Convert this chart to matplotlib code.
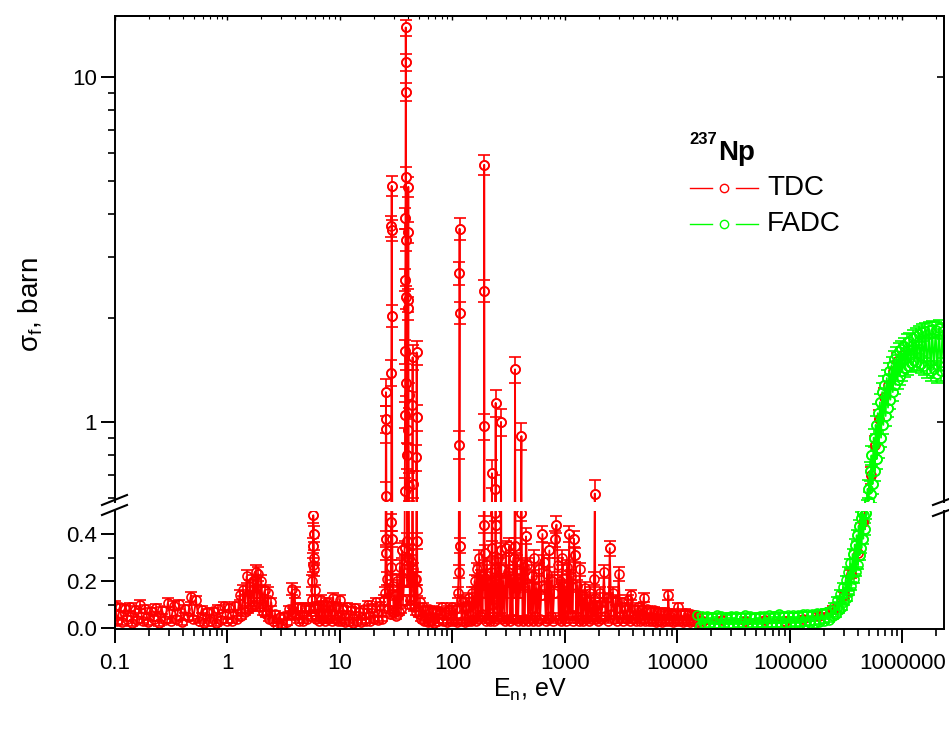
import numpy as np
import matplotlib
matplotlib.use("Agg")
import matplotlib.pyplot as plt
from matplotlib.lines import Line2D
from matplotlib.ticker import FixedLocator, FixedFormatter, LogLocator, NullFormatter

plt.rcParams['font.family'] = ['Liberation Sans', 'DejaVu Sans']
plt.rcParams['mathtext.fontset'] = 'custom'
plt.rcParams['mathtext.rm'] = 'Liberation Sans'
plt.rcParams['mathtext.it'] = 'Liberation Sans'

# ---- fission cross section of Np-237: (energy eV, sigma barn, error barn) ----
tdc_thermal = [
    (0.100, 0.095, 0.018), (0.105, 0.030, 0.012), (0.110, 0.088, 0.016), (0.116, 0.025, 0.010),
    (0.122, 0.082, 0.015), (0.128, 0.040, 0.012), (0.135, 0.090, 0.017), (0.142, 0.020, 0.010),
    (0.150, 0.078, 0.015), (0.158, 0.035, 0.012), (0.167, 0.100, 0.018), (0.176, 0.030, 0.010),
    (0.186, 0.082, 0.016), (0.197, 0.025, 0.010), (0.208, 0.072, 0.014), (0.220, 0.040, 0.012),
    (0.233, 0.085, 0.016), (0.247, 0.020, 0.010), (0.262, 0.076, 0.015), (0.278, 0.035, 0.012),
    (0.295, 0.108, 0.020), (0.313, 0.030, 0.010), (0.332, 0.095, 0.018), (0.352, 0.040, 0.012),
    (0.373, 0.102, 0.019), (0.395, 0.025, 0.010), (0.418, 0.080, 0.016), (0.443, 0.045, 0.012),
    (0.469, 0.132, 0.022), (0.496, 0.040, 0.012), (0.525, 0.118, 0.020), (0.556, 0.030, 0.010),
    (0.589, 0.078, 0.015), (0.624, 0.020, 0.010), (0.661, 0.068, 0.014), (0.700, 0.030, 0.010),
    (0.741, 0.072, 0.015), (0.785, 0.020, 0.010), (0.831, 0.082, 0.016), (0.880, 0.035, 0.012),
    (0.932, 0.092, 0.017), (0.987, 0.030, 0.010),
]

tdc_low = [
    (1.04, 0.085, 0.016), (1.10, 0.030, 0.010), (1.16, 0.095, 0.017), (1.22, 0.040, 0.012),
    (1.28, 0.140, 0.022), (1.33, 0.050, 0.012), (1.38, 0.160, 0.024), (1.43, 0.070, 0.014),
    (1.48, 0.220, 0.028), (1.53, 0.080, 0.015), (1.58, 0.180, 0.026), (1.63, 0.090, 0.016),
    (1.68, 0.200, 0.027), (1.73, 0.100, 0.017), (1.78, 0.240, 0.030), (1.83, 0.110, 0.018),
    (1.88, 0.230, 0.030), (1.94, 0.090, 0.016), (2.00, 0.200, 0.027), (2.07, 0.070, 0.014),
    (2.14, 0.160, 0.024), (2.21, 0.060, 0.013), (2.28, 0.150, 0.023), (2.36, 0.040, 0.012),
    (2.45, 0.110, 0.018), (2.55, 0.030, 0.010), (2.66, 0.060, 0.013), (2.78, 0.015, 0.008),
    (2.91, 0.045, 0.012), (3.05, 0.010, 0.008), (3.20, 0.050, 0.012), (3.36, 0.025, 0.010),
    (3.52, 0.080, 0.015), (3.65, 0.060, 0.013), (3.75, 0.165, 0.025), (3.85, 0.070, 0.014),
    (3.95, 0.150, 0.023), (4.06, 0.050, 0.012), (4.20, 0.090, 0.016), (4.36, 0.030, 0.010),
    (4.53, 0.085, 0.016), (4.72, 0.030, 0.010), (4.92, 0.090, 0.016), (5.13, 0.040, 0.012),
    (5.35, 0.080, 0.015), (5.52, 0.050, 0.012), (5.62, 0.120, 0.020), (5.67, 0.200, 0.026),
    (5.71, 0.270, 0.030), (5.75, 0.350, 0.032), (5.79, 0.480, 0.035), (5.83, 0.400, 0.033),
    (5.87, 0.300, 0.030), (5.91, 0.250, 0.028), (5.96, 0.160, 0.024), (6.02, 0.090, 0.016),
    (6.15, 0.040, 0.012), (6.35, 0.095, 0.017), (6.55, 0.030, 0.010), (6.75, 0.120, 0.020),
    (6.95, 0.040, 0.012), (7.17, 0.100, 0.017), (7.40, 0.030, 0.010), (7.64, 0.110, 0.018),
    (7.89, 0.040, 0.012), (8.15, 0.095, 0.017), (8.42, 0.030, 0.010), (8.70, 0.130, 0.020),
    (8.99, 0.040, 0.012), (9.30, 0.090, 0.016), (9.62, 0.030, 0.010), (9.95, 0.120, 0.020),
]

tdc_resonance = [
    (10.3, 0.030, 0.010), (10.7, 0.080, 0.015), (11.1, 0.025, 0.010), (11.6, 0.090, 0.016),
    (12.1, 0.030, 0.010), (12.6, 0.075, 0.015), (13.1, 0.020, 0.010), (13.7, 0.085, 0.016),
    (14.3, 0.030, 0.010), (14.9, 0.070, 0.014), (15.5, 0.025, 0.010), (16.2, 0.080, 0.015),
    (16.9, 0.030, 0.010), (17.6, 0.100, 0.017), (18.4, 0.030, 0.010), (19.2, 0.085, 0.016),
    (20.0, 0.040, 0.012), (20.9, 0.110, 0.018), (21.8, 0.035, 0.012), (22.8, 0.095, 0.017),
    (23.8, 0.040, 0.012), (24.6, 0.120, 0.020),
    (25.2, 0.150, 0.024), (25.4, 0.320, 0.032), (25.5, 0.610, 0.060), (25.6, 1.220, 0.110),
    (25.7, 1.020, 0.090), (25.8, 0.955, 0.085), (25.9, 0.380, 0.034), (26.1, 0.210, 0.027),
    (26.6, 0.080, 0.015), (27.2, 0.160, 0.024), (27.8, 0.060, 0.013),
    (28.3, 0.260, 0.030), (28.5, 0.450, 0.035), (28.6, 1.390, 0.120), (28.7, 3.700, 0.260),
    (28.8, 4.830, 0.330), (28.9, 3.600, 0.250), (29.0, 2.030, 0.150), (29.2, 0.380, 0.034),
    (29.4, 0.180, 0.025),
    (30.0, 0.070, 0.014), (30.8, 0.140, 0.022), (31.6, 0.050, 0.012), (32.4, 0.200, 0.026),
    (33.2, 0.070, 0.014), (34.0, 0.260, 0.030), (34.8, 0.080, 0.015), (35.6, 0.330, 0.032),
    (36.4, 0.120, 0.020),
    (37.2, 0.200, 0.026), (37.5, 0.340, 0.032), (37.7, 0.630, 0.060), (37.9, 1.050, 0.090),
    (38.0, 1.600, 0.130), (38.1, 2.580, 0.190), (38.2, 3.900, 0.270), (38.3, 9.050, 0.550),
    (38.4, 13.90, 0.750), (38.5, 11.00, 0.620), (38.6, 5.130, 0.340), (38.7, 3.370, 0.240),
    (38.8, 2.300, 0.170), (39.0, 1.300, 0.110), (39.2, 0.800, 0.070), (39.5, 0.370, 0.034),
    (39.8, 0.200, 0.026),
    (40.0, 0.300, 0.030), (40.2, 0.950, 0.085), (40.3, 2.140, 0.160), (40.4, 3.550, 0.250),
    (40.5, 4.800, 0.330), (40.6, 2.250, 0.170), (40.7, 1.200, 0.100), (40.9, 0.650, 0.060),
    (41.2, 0.300, 0.030),
    (41.8, 0.120, 0.020), (42.4, 0.280, 0.030), (43.0, 0.100, 0.017),
    (43.6, 0.200, 0.026), (44.0, 1.120, 0.100), (44.2, 1.540, 0.130), (44.4, 0.660, 0.060),
    (44.7, 0.250, 0.028),
    (45.5, 0.090, 0.016), (46.3, 0.210, 0.027), (47.0, 0.070, 0.014),
    (47.5, 0.210, 0.027), (47.8, 0.790, 0.070), (48.0, 1.590, 0.130), (48.2, 1.030, 0.090),
    (48.5, 0.370, 0.034), (48.8, 0.160, 0.024),
    (50.0, 0.060, 0.013), (51.5, 0.110, 0.018), (53.0, 0.040, 0.012), (54.6, 0.090, 0.016),
    (56.2, 0.030, 0.010), (58.0, 0.075, 0.015), (60.0, 0.025, 0.010), (62.0, 0.080, 0.015),
    (64.0, 0.030, 0.010), (66.5, 0.070, 0.014), (69.0, 0.020, 0.010), (71.5, 0.075, 0.015),
    (74.0, 0.030, 0.010), (77.0, 0.065, 0.014), (80.0, 0.090, 0.016), (83.0, 0.030, 0.010),
    (86.5, 0.070, 0.014), (90.0, 0.025, 0.010), (93.5, 0.080, 0.015), (97.0, 0.030, 0.010),
]

tdc_unresolved = [
    (100, 0.090, 0.016), (103, 0.030, 0.010), (106, 0.080, 0.015), (109, 0.025, 0.010),
    (112, 0.150, 0.023), (113.5, 0.240, 0.028), (114.5, 0.860, 0.080), (115.2, 2.700, 0.200),
    (115.6, 3.630, 0.260), (116.0, 2.070, 0.150), (116.6, 0.350, 0.032), (118, 0.120, 0.020),
    (121, 0.030, 0.010), (125, 0.110, 0.018), (129, 0.025, 0.010), (133, 0.090, 0.016),
    (137, 0.030, 0.010), (141, 0.130, 0.021), (145, 0.030, 0.010), (149, 0.150, 0.023),
    (153, 0.040, 0.012), (157, 0.200, 0.026), (161, 0.030, 0.010), (165, 0.250, 0.028),
    (169, 0.040, 0.012), (173, 0.300, 0.030), (177, 0.050, 0.012), (181, 0.220, 0.027),
    (184.5, 0.060, 0.013),
    (188, 0.200, 0.026), (189.5, 0.440, 0.035), (190.5, 0.970, 0.085), (191.5, 5.560, 0.370),
    (192.2, 2.400, 0.180), (193, 0.320, 0.032), (195, 0.150, 0.023),
    (198, 0.030, 0.010), (202, 0.270, 0.030), (206, 0.040, 0.012), (210, 0.190, 0.026),
    (214, 0.030, 0.010), (218, 0.240, 0.028),
    (222, 0.100, 0.017), (224, 0.710, 0.065), (226, 0.340, 0.032), (228, 0.050, 0.012),
    (232, 0.180, 0.025), (236, 0.030, 0.010),
    (239, 0.250, 0.028), (240, 0.490, 0.036), (241, 0.640, 0.060), (242, 1.135, 0.100),
    (243, 0.440, 0.035), (244, 0.200, 0.026),
    (250, 0.040, 0.012), (256, 0.300, 0.030), (262, 0.050, 0.012),
    (266, 0.150, 0.023), (268, 0.330, 0.032), (270, 1.000, 0.090), (272, 0.250, 0.028),
    (275, 0.040, 0.012),
    (282, 0.200, 0.026), (290, 0.030, 0.010), (298, 0.340, 0.032), (306, 0.040, 0.012),
    (314, 0.240, 0.028), (320, 0.350, 0.032), (327, 0.030, 0.010), (334, 0.210, 0.027),
    (342, 0.040, 0.012), (349, 0.300, 0.030),
    (353, 0.150, 0.023), (356, 0.350, 0.032), (360, 1.420, 0.120), (364, 0.200, 0.026),
    (368, 0.040, 0.012),
    (375, 0.280, 0.030), (383, 0.030, 0.010), (391, 0.190, 0.026),
    (400, 0.150, 0.023), (405, 0.490, 0.036), (410, 0.910, 0.080), (415, 0.200, 0.026),
    (420, 0.030, 0.010),
    (430, 0.260, 0.029), (440, 0.040, 0.012), (450, 0.390, 0.034), (460, 0.270, 0.030),
    (470, 0.030, 0.010), (482, 0.180, 0.025), (494, 0.040, 0.012), (506, 0.220, 0.027),
    (518, 0.030, 0.010), (531, 0.300, 0.030), (544, 0.050, 0.012), (558, 0.170, 0.024),
    (572, 0.030, 0.010), (586, 0.250, 0.028), (600, 0.040, 0.012), (615, 0.140, 0.022),
    (630, 0.400, 0.034), (645, 0.280, 0.030), (660, 0.170, 0.024), (676, 0.030, 0.010),
    (692, 0.230, 0.028), (709, 0.040, 0.012), (726, 0.330, 0.032), (744, 0.050, 0.012),
    (762, 0.200, 0.026), (780, 0.030, 0.010), (800, 0.150, 0.023), (820, 0.380, 0.034),
    (840, 0.440, 0.035), (860, 0.270, 0.030), (880, 0.040, 0.012), (900, 0.200, 0.026),
    (922, 0.030, 0.010), (944, 0.300, 0.030), (967, 0.050, 0.012), (990, 0.180, 0.025),
]

tdc_kev = [
    (1015, 0.030, 0.010), (1040, 0.260, 0.029), (1065, 0.050, 0.012), (1090, 0.400, 0.034),
    (1115, 0.060, 0.013), (1140, 0.220, 0.027), (1170, 0.030, 0.010), (1200, 0.380, 0.034),
    (1230, 0.310, 0.031), (1260, 0.050, 0.012), (1290, 0.180, 0.025), (1320, 0.030, 0.010),
    (1355, 0.250, 0.028), (1390, 0.040, 0.012), (1425, 0.140, 0.022), (1460, 0.030, 0.010),
    (1500, 0.170, 0.024), (1540, 0.040, 0.012), (1580, 0.120, 0.020), (1620, 0.030, 0.010),
    (1665, 0.150, 0.023), (1710, 0.040, 0.012), (1755, 0.090, 0.016),
    (1800, 0.050, 0.012), (1820, 0.210, 0.027), (1840, 0.620, 0.060), (1860, 0.130, 0.021),
    (1880, 0.040, 0.012),
    (1930, 0.100, 0.017), (1980, 0.030, 0.010), (2040, 0.150, 0.023), (2100, 0.040, 0.012),
    (2160, 0.110, 0.018), (2220, 0.240, 0.028), (2290, 0.050, 0.012), (2360, 0.130, 0.021),
    (2430, 0.030, 0.010), (2500, 0.340, 0.032), (2580, 0.060, 0.013), (2660, 0.150, 0.023),
    (2740, 0.040, 0.012), (2820, 0.120, 0.020), (2910, 0.030, 0.010), (3000, 0.230, 0.028),
    (3100, 0.050, 0.012), (3200, 0.110, 0.018), (3300, 0.030, 0.010), (3420, 0.090, 0.016),
    (3540, 0.040, 0.012), (3660, 0.120, 0.020), (3780, 0.030, 0.010), (3900, 0.140, 0.022),
    (4030, 0.040, 0.012), (4170, 0.080, 0.015), (4310, 0.030, 0.010), (4460, 0.090, 0.016),
    (4610, 0.030, 0.010), (4770, 0.080, 0.015), (4930, 0.040, 0.012), (5000, 0.130, 0.021),
    (5180, 0.030, 0.010), (5370, 0.080, 0.015), (5560, 0.030, 0.010), (5760, 0.070, 0.014),
    (5960, 0.030, 0.010), (6170, 0.075, 0.015), (6390, 0.025, 0.010), (6620, 0.070, 0.014),
    (6860, 0.030, 0.010), (7100, 0.065, 0.014), (7350, 0.025, 0.010), (7610, 0.070, 0.014),
    (7880, 0.030, 0.010), (8160, 0.060, 0.013), (8300, 0.140, 0.022), (8450, 0.030, 0.010),
    (8750, 0.065, 0.014), (9060, 0.025, 0.010), (9380, 0.060, 0.013), (9710, 0.030, 0.010),
    (10050, 0.090, 0.016), (10400, 0.030, 0.010), (10800, 0.060, 0.013), (11200, 0.025, 0.010),
    (11600, 0.065, 0.014), (12000, 0.030, 0.010), (12400, 0.060, 0.013), (12800, 0.025, 0.010),
    (13300, 0.060, 0.013), (13800, 0.030, 0.010), (14300, 0.055, 0.012), (14800, 0.025, 0.010),
    (15300, 0.050, 0.012),
]

tdc_fast = [
    (17000, 0.030, 0.010), (25000, 0.035, 0.010), (40000, 0.030, 0.010), (60000, 0.035, 0.010),
    (90000, 0.030, 0.010), (130000, 0.040, 0.010), (180000, 0.050, 0.012), (240000, 0.080, 0.012),
    (300000, 0.140, 0.015), (350000, 0.230, 0.018), (400000, 0.320, 0.022), (450000, 0.450, 0.026),
    (520000, 0.700, 0.040), (570000, 0.860, 0.050), (620000, 1.020, 0.060), (680000, 1.180, 0.070),
    (750000, 1.280, 0.075), (820000, 1.400, 0.080), (900000, 1.500, 0.085), (1000000, 1.560, 0.090),
]

fadc = [
    (15000, 0.055, 0.010), (15800, 0.010, 0.008), (16600, 0.050, 0.010), (17400, 0.008, 0.008),
    (18300, 0.052, 0.010), (19200, 0.012, 0.008), (20200, 0.048, 0.010), (21200, 0.008, 0.008),
    (22300, 0.055, 0.010), (23400, 0.010, 0.008), (24600, 0.050, 0.010), (25800, 0.012, 0.008),
    (27100, 0.046, 0.010), (28500, 0.008, 0.008), (29900, 0.052, 0.010), (31400, 0.010, 0.008),
    (33000, 0.050, 0.010), (34600, 0.012, 0.008), (36400, 0.048, 0.010), (38200, 0.010, 0.008),
    (40100, 0.056, 0.010), (42100, 0.011, 0.008), (44200, 0.050, 0.010), (46400, 0.010, 0.008),
    (48800, 0.048, 0.010), (51200, 0.012, 0.008), (53800, 0.052, 0.010), (56500, 0.011, 0.008),
    (59300, 0.050, 0.010), (62300, 0.012, 0.008), (65400, 0.056, 0.010), (68700, 0.012, 0.008),
    (72100, 0.050, 0.010), (75700, 0.012, 0.008), (79500, 0.058, 0.010), (83500, 0.014, 0.008),
    (87700, 0.052, 0.010), (92100, 0.012, 0.008), (96700, 0.055, 0.010), (101500, 0.016, 0.008),
    (106600, 0.056, 0.010), (111900, 0.014, 0.008), (117500, 0.054, 0.010), (123400, 0.018, 0.008),
    (129600, 0.058, 0.010), (136100, 0.016, 0.008), (142900, 0.058, 0.010), (150000, 0.020, 0.008),
    (157500, 0.060, 0.010), (165400, 0.022, 0.008), (173700, 0.062, 0.011), (182400, 0.025, 0.009),
    (191500, 0.065, 0.011), (201100, 0.030, 0.009), (211100, 0.068, 0.011), (221700, 0.036, 0.010),
    (232800, 0.075, 0.012), (240000, 0.050, 0.010), (248000, 0.095, 0.013), (256000, 0.060, 0.011),
    (264000, 0.120, 0.014), (272000, 0.075, 0.012), (280000, 0.145, 0.015), (288000, 0.090, 0.013),
    (296000, 0.175, 0.016), (304000, 0.110, 0.014), (312000, 0.205, 0.017), (320000, 0.130, 0.015),
    (328000, 0.240, 0.018), (336000, 0.155, 0.016), (344000, 0.275, 0.019), (352000, 0.180, 0.017),
    (360000, 0.315, 0.020), (368000, 0.210, 0.018), (376000, 0.355, 0.022), (384000, 0.240, 0.019),
    (392000, 0.395, 0.023), (400000, 0.270, 0.020), (408000, 0.435, 0.024), (416000, 0.310, 0.021),
    (424000, 0.470, 0.025), (432000, 0.340, 0.022), (440000, 0.490, 0.026), (448000, 0.380, 0.023),
    (456000, 0.480, 0.026), (464000, 0.420, 0.025), (472000, 0.490, 0.027), (480000, 0.560, 0.035),
    (490000, 0.640, 0.040), (500000, 0.590, 0.036), (510000, 0.720, 0.045), (520000, 0.620, 0.038),
    (530000, 0.800, 0.050), (542000, 0.660, 0.040), (554000, 0.900, 0.055), (566000, 0.720, 0.045),
    (578000, 0.980, 0.060), (590000, 0.780, 0.048), (603000, 1.060, 0.065), (616000, 0.840, 0.052),
    (630000, 1.140, 0.068), (645000, 0.900, 0.055), (660000, 1.220, 0.072), (676000, 0.980, 0.060),
    (692000, 1.280, 0.075), (709000, 1.040, 0.064), (726000, 1.340, 0.078), (744000, 1.100, 0.066),
    (762000, 1.400, 0.080), (781000, 1.160, 0.070), (800000, 1.460, 0.082), (820000, 1.220, 0.072),
    (841000, 1.520, 0.085), (862000, 1.280, 0.075), (884000, 1.560, 0.088), (906000, 1.320, 0.078),
    (929000, 1.600, 0.090), (952000, 1.360, 0.080), (976000, 1.630, 0.090), (1000000, 1.400, 0.082),
    (1030000, 1.660, 0.092), (1060000, 1.430, 0.083), (1090000, 1.700, 0.094), (1120000, 1.450, 0.084),
    (1150000, 1.720, 0.095), (1190000, 1.480, 0.085), (1230000, 1.750, 0.096), (1270000, 1.500, 0.086),
    (1310000, 1.770, 0.097), (1350000, 1.490, 0.086), (1400000, 1.800, 0.098), (1450000, 1.470, 0.085),
    (1500000, 1.820, 0.099), (1550000, 1.450, 0.084), (1600000, 1.840, 0.100), (1660000, 1.420, 0.083),
    (1720000, 1.850, 0.100), (1780000, 1.400, 0.082), (1840000, 1.860, 0.100), (1900000, 1.420, 0.083),
    (1970000, 1.850, 0.100), (2040000, 1.380, 0.081), (2110000, 1.870, 0.100), (2190000, 1.400, 0.082),
    (2270000, 1.840, 0.100), (2340000, 1.450, 0.084),
]

x_ticks = [0.1, 1, 10, 100, 1000, 10000, 100000, 1000000]
x_tick_labels = ['0.1', '1', '10', '100', '1000', '10000', '100000', '1000000']
top_y_ticks = [1, 10]
top_y_tick_labels = ['1', '10']
bot_y_ticks = [0.0, 0.2, 0.4]
bot_y_tick_labels = ['0.0', '0.2', '0.4']

tdc = np.array(tdc_thermal + tdc_low + tdc_resonance + tdc_unresolved + tdc_kev + tdc_fast)
fadc_arr = np.array(fadc)

RED = '#ff0000'
GREEN = '#00ff00'
W, H = 949, 729

fig = plt.figure(figsize=(W / 100, H / 100), dpi=100)
left, right = 115 / W, 944 / W
ax_top = fig.add_axes([left, 1 - 502 / H, right - left, (502 - 16) / H])
ax_bot = fig.add_axes([left, 1 - 629 / H, right - left, (629 - 511) / H], sharex=ax_top)


def draw_series(ax, data, color):
    e, s, d = data[:, 0], data[:, 1], data[:, 2]
    ax.errorbar(e, s, yerr=d, fmt='-o', color=color,
                lw=1.3, ms=6.5, mfc='none', mec=color, mew=1.2,
                elinewidth=1.2, ecolor=color, capsize=4, capthick=1.2)
    # isolated resonance points are drawn with an opaque face
    tall = s > 0.3
    ax.plot(e[tall], s[tall], 'o', ms=6.5, mfc='white', mec=color, mew=1.2)


for ax in (ax_top, ax_bot):
    draw_series(ax, tdc, RED)
    draw_series(ax, fadc_arr, GREEN)
    ax.set_xscale('log')
    ax.set_xlim(0.1, 2.34e6)
    for s in ax.spines.values():
        s.set_linewidth(1.4)

ax_top.set_yscale('log')
ax_top.set_ylim(0.586, 15.0)
ax_bot.set_ylim(-0.004, 0.498)

ax_top.spines['bottom'].set_visible(False)
ax_bot.spines['top'].set_visible(False)

TICK_FS = 16

# x axis (bottom panel)
ax_bot.xaxis.set_major_locator(FixedLocator(x_ticks))
ax_bot.xaxis.set_major_formatter(FixedFormatter(x_tick_labels))
ax_bot.xaxis.set_minor_locator(LogLocator(base=10, subs=np.arange(2, 10), numticks=20))
ax_bot.xaxis.set_minor_formatter(NullFormatter())
ax_bot.tick_params(axis='x', which='major', direction='out', length=10, width=1.4,
                   labelsize=TICK_FS, pad=7, top=False)
ax_bot.tick_params(axis='x', which='minor', direction='out', length=5, width=1.2, top=False)
ax_top.tick_params(axis='x', which='both', bottom=False, labelbottom=False, top=False)

# y axes
ax_top.yaxis.set_major_locator(FixedLocator(top_y_ticks))
ax_top.yaxis.set_major_formatter(FixedFormatter(top_y_tick_labels))
ax_top.yaxis.set_minor_locator(LogLocator(base=10, subs=np.arange(2, 10), numticks=20))
ax_top.yaxis.set_minor_formatter(NullFormatter())
ax_top.tick_params(axis='y', which='major', direction='out', length=10, width=1.4,
                   labelsize=TICK_FS, pad=3, right=False)
ax_top.tick_params(axis='y', which='minor', direction='out', length=5, width=1.2, right=False)

ax_bot.yaxis.set_major_locator(FixedLocator(bot_y_ticks))
ax_bot.yaxis.set_major_formatter(FixedFormatter(bot_y_tick_labels))
ax_bot.yaxis.set_minor_locator(FixedLocator([0.1, 0.3]))
ax_bot.tick_params(axis='y', which='major', direction='out', length=10, width=1.4,
                   labelsize=TICK_FS, pad=3, right=False)
ax_bot.tick_params(axis='y', which='minor', direction='out', length=5, width=1.2, right=False)

# small inward ticks on the frame of the upper panel
sec_r = ax_top.secondary_yaxis('right')
sec_r.yaxis.set_major_locator(FixedLocator(top_y_ticks))
sec_r.yaxis.set_minor_locator(FixedLocator([]))
sec_r.tick_params(axis='y', which='major', direction='in', length=5, width=1.2, labelright=False)
sec_r.spines['right'].set_linewidth(1.4)
sec_t = ax_top.secondary_xaxis('top')
sec_t.xaxis.set_major_locator(FixedLocator(x_ticks))
sec_t.xaxis.set_minor_locator(LogLocator(base=10, subs=np.arange(2, 10), numticks=20))
sec_t.xaxis.set_minor_formatter(NullFormatter())
sec_t.tick_params(axis='x', which='major', direction='in', length=3, width=1.0, labeltop=False)
sec_t.tick_params(axis='x', which='minor', direction='in', length=2, width=0.8)
sec_t.spines['top'].set_linewidth(1.4)

# axis break marks
for (x0, y0, x1, y1) in [(102, 505, 127, 495), (102, 515, 127, 505),
                         (933, 505, 949, 499), (933, 516, 949, 510)]:
    fig.add_artist(Line2D([x0 / W, x1 / W], [1 - y0 / H, 1 - y1 / H],
                          transform=fig.transFigure, color='black', lw=1.5))

# axis titles
fig.text(31 / W, 1 - 305 / H, r'$\mathregular{\sigma_f}$, barn', rotation=90,
         ha='center', va='center', fontsize=20)
fig.text(530 / W, 1 - 697 / H, r'$\mathregular{E_n}$, eV', ha='center', va='baseline', fontsize=18)

# legend
fig.text(689 / W, 1 - 139 / H, '237', fontsize=12, fontweight='bold', ha='left', va='center')
fig.text(718 / W, 1 - 153 / H, 'Np', fontsize=20, fontweight='bold', ha='left', va='center')
for yc, col, label in [(188, RED, 'TDC'), (224, GREEN, 'FADC')]:
    yf = 1 - yc / H
    fig.add_artist(Line2D([690 / W, 712 / W], [yf, yf], transform=fig.transFigure, color=col, lw=1.0))
    fig.add_artist(Line2D([736 / W, 758 / W], [yf, yf], transform=fig.transFigure, color=col, lw=1.0))
    fig.add_artist(Line2D([724 / W], [yf], transform=fig.transFigure, color=col, marker='o',
                          ms=6, mfc='white', mec=col, mew=1.0, lw=0))
    fig.text(767 / W, yf, label, fontsize=20, ha='left', va='center')

fig.savefig('out.png', dpi=100)
